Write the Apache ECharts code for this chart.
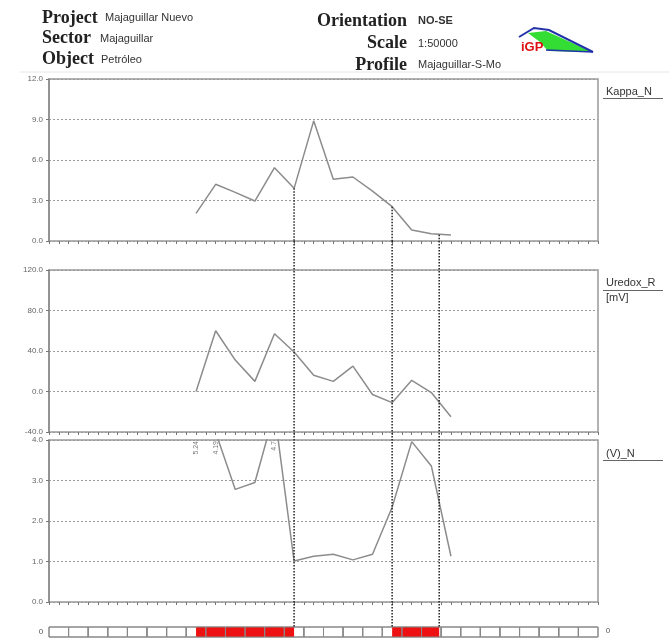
<!DOCTYPE html>
<html><head><meta charset="utf-8">
<script src="https://cdn.jsdelivr.net/npm/echarts@6/dist/echarts.min.js"></script>
<style>html,body{margin:0;padding:0;background:#fff}#c{width:669px;height:639px}</style>
</head><body><div id="c"></div>
<script>
// ---- data ----
const stations = [0,1,2,3,4,5,6,7,8,9,10,11,12,13];
const kappaN  = [2.05,4.2,3.6,2.96,5.43,3.9,8.9,4.57,4.74,3.7,2.54,0.82,0.54,0.44];
const uredoxR = [0,60,31,10,57,39,16,10,25,-3,-11,11,-1,-25];
const vN      = [5.24,4.19,2.78,2.95,4.7,1.01,1.13,1.18,1.04,1.18,2.34,3.96,3.36,1.13];
const kappaTicks  = [0,3,6,9,12];
const uredoxTicks = [-40,0,40,80,120];
const vTicks      = [0,1,2,3,4];
const markerX   = [5,10,12.4];
const markerTop = [3.9,2.54,0.46];
const redZones  = [[0,5],[10,12.4]];
const xRange    = [-7.5,20.5];

const fontSans = '"Liberation Sans", Arial, sans-serif';
const fontSerif = '"Liberation Serif", "Times New Roman", serif';
const xMin = xRange[0], xMax = xRange[1];

function panelX(gi){
  return {gridIndex:gi,type:'value',min:xMin,max:xMax,interval:0.5,position:'bottom',
    axisLine:{show:false,onZero:false},axisTick:{show:true,length:3,lineStyle:{color:'#777',width:1}},
    axisLabel:{show:false},splitLine:{show:false}};
}
function panelY(gi,ticks){
  return {gridIndex:gi,type:'value',min:ticks[0],max:ticks[ticks.length-1],interval:ticks[1]-ticks[0],position:'left',
    axisLine:{show:true,onZero:false,lineStyle:{color:'#888',width:1.5}},
    axisTick:{show:true,length:3,lineStyle:{color:'#777'}},
    axisLabel:{fontSize:8,color:'#666',fontFamily:fontSans,margin:6,formatter:v=>v.toFixed(1)},
    splitLine:{show:true,lineStyle:{color:'#9a9a9a',type:[2,2],width:1}}};
}
function hiddenX(gi){return {gridIndex:gi,type:'value',min:xMin,max:xMax,show:false};}
function hiddenY(gi){return {gridIndex:gi,type:'value',min:0,max:1,show:false};}

const lineStyle = {color:'#8c8c8c',width:1.5};
function vline(params,api){
  const p1 = api.coord([api.value(0),api.value(1)]);
  const p2 = api.coord([api.value(0),0]);
  return {type:'line',shape:{x1:p1[0],y1:p1[1],x2:p2[0],y2:p2[1]},
    style:{stroke:'#222',lineWidth:1.5,lineDash:[1.5,1.5]}};
}
function rectItem(fill,stroke){
  return function(params,api){
    const a = api.coord([api.value(0),1]);
    const b = api.coord([api.value(1),0]);
    return {type:'rect',shape:{x:a[0],y:a[1],width:b[0]-a[0],height:b[1]-a[1]},
      style:{fill:fill,stroke:stroke,lineWidth:1}};
  };
}
const cells = [];
for(let s=xMin;s<xMax;s+=1){cells.push([s,s+1]);}
const vMax = vTicks[vTicks.length-1];

const gridBase = {left:49,right:71,show:true,borderColor:'#999',borderWidth:1.5,backgroundColor:'transparent'};

function txt(text,x,y,font,fill,align){
  return {type:'text',x:x,y:y,style:{text:text,font:font,fill:fill||'#222',align:align||'left',verticalAlign:'middle'}};
}
const hdrFont = 'bold 18px ' + fontSerif;
const valFont = '11px ' + fontSans;

const option = {
  animation:false,
  backgroundColor:'#fff',
  grid:[
    Object.assign({},gridBase,{top:79,height:162}),
    Object.assign({},gridBase,{top:270,height:162}),
    Object.assign({},gridBase,{top:440,height:162}),
    {left:49,right:71,top:627,height:10,show:false},
    {left:49,right:71,top:241,height:386,show:false}
  ],
  xAxis:[panelX(0),panelX(1),panelX(2),hiddenX(3),hiddenX(4)],
  yAxis:[panelY(0,kappaTicks),panelY(1,uredoxTicks),panelY(2,vTicks),hiddenY(3),hiddenY(4)],
  series:[
    {type:'line',xAxisIndex:0,yAxisIndex:0,symbol:'none',lineStyle:lineStyle,clip:true,
      data:stations.map((s,i)=>[s,kappaN[i]])},
    {type:'line',xAxisIndex:1,yAxisIndex:1,symbol:'none',lineStyle:lineStyle,clip:true,
      data:stations.map((s,i)=>[s,uredoxR[i]])},
    {type:'line',xAxisIndex:2,yAxisIndex:2,symbol:'none',lineStyle:lineStyle,clip:true,
      data:stations.map((s,i)=>[s,vN[i]])},
    {type:'scatter',xAxisIndex:2,yAxisIndex:2,symbolSize:0,silent:true,
      data:stations.map((s,i)=>[s,vMax,vN[i]]).filter(d=>d[2]>vMax),
      label:{show:true,formatter:p=>String(p.value[2]),position:'bottom',distance:1,rotate:90,
        align:'right',verticalAlign:'middle',fontSize:7,color:'#555',fontFamily:fontSans}},
    {type:'custom',xAxisIndex:0,yAxisIndex:0,renderItem:vline,clip:false,z:5,
      data:markerX.map((x,i)=>[x,markerTop[i]])},
    {type:'custom',xAxisIndex:4,yAxisIndex:4,renderItem:vline,clip:false,z:5,
      data:markerX.map(x=>[x,1])},
    {type:'custom',xAxisIndex:3,yAxisIndex:3,renderItem:rectItem('#fff','#888'),clip:false,z:2,data:cells},
    {type:'custom',xAxisIndex:3,yAxisIndex:3,renderItem:rectItem('#ee1111',null),clip:false,z:3,data:redZones},
    {type:'custom',xAxisIndex:3,yAxisIndex:3,renderItem:rectItem('none','#888'),clip:false,z:4,data:cells}
  ],
  graphic:[
    txt('Project',42,18,hdrFont,'#222'),
    txt('Sector',42,38,hdrFont,'#222'),
    txt('Object',42,59,hdrFont,'#222'),
    txt('Majaguillar Nuevo',105,18,valFont,'#333'),
    txt('Majaguillar',100,39,valFont,'#333'),
    txt('Petróleo',101,60,valFont,'#333'),
    txt('Orientation',407,21,hdrFont,'#222','right'),
    txt('Scale',407,43,hdrFont,'#222','right'),
    txt('Profile',407,65,hdrFont,'#222','right'),
    txt('NO-SE',418,21,'bold 11px '+fontSans,'#333'),
    txt('1:50000',418,44,valFont,'#333'),
    txt('Majaguillar-S-Mo',418,65,valFont,'#333'),
    {type:'line',shape:{x1:20,y1:72,x2:669,y2:72},style:{stroke:'#e6e6e6',lineWidth:1}},
    // logo
    {type:'polygon',shape:{points:[[528,33],[546,31],[592,52],[548,51],[540,42]]},style:{fill:'#33dd33'}},
    {type:'polyline',shape:{points:[[519,37],[534,28],[549,30],[593,52]]},style:{stroke:'#2233aa',lineWidth:2,fill:null}},
    {type:'polyline',shape:{points:[[546,50],[593,52]]},style:{stroke:'#2233aa',lineWidth:1.5,fill:null}},
    txt('iGP',521,47,'bold 13px '+fontSans,'#dd1111'),
    // right labels
    txt('Kappa_N',606,92,valFont,'#333'),
    {type:'line',shape:{x1:603,y1:98.5,x2:663,y2:98.5},style:{stroke:'#666',lineWidth:1}},
    txt('Uredox_R',606,283,valFont,'#333'),
    {type:'line',shape:{x1:603,y1:290.5,x2:663,y2:290.5},style:{stroke:'#666',lineWidth:1}},
    txt('[mV]',606,298,valFont,'#333'),
    txt('(V)_N',606,454,valFont,'#333'),
    {type:'line',shape:{x1:603,y1:460.5,x2:663,y2:460.5},style:{stroke:'#666',lineWidth:1}},
    txt('0',41,632,'8px '+fontSans,'#555','center'),
    txt('0',608,631,'8px '+fontSans,'#555','center')
  ]
};
const chart = echarts.init(document.getElementById('c'),null,{renderer:'canvas'});
chart.setOption(option);
</script></body></html>
